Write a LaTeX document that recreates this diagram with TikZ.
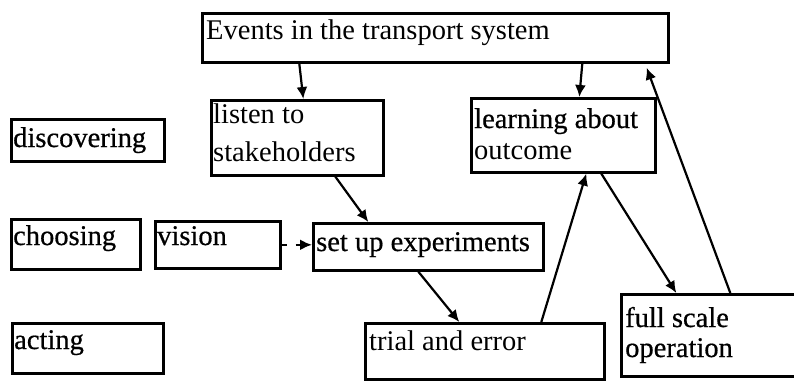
\documentclass[tikz,border=0pt]{standalone}
\usepackage{fontspec}
\setmainfont{Liberation Serif}
\newfontfamily\heavyfont[FakeBold=0.6]{Liberation Serif}
\usetikzlibrary{arrows.meta}
\begin{document}
\begin{tikzpicture}[x=1pt,y=-1pt,
  box/.style={draw, line width=2.6pt, anchor=north west, inner sep=0pt},
  txt/.style={anchor=base west, inner sep=0pt, font=\fontsize{28.5}{32}\selectfont},
  htxt/.style={anchor=base west, inner sep=0pt, font=\heavyfont\fontsize{28.5}{32}\selectfont},
  arr/.style={line width=2.2pt, -{Latex[length=12pt,width=11pt]}}]
\useasboundingbox (0,0) rectangle (794,381);
% boxes
\node[box, minimum width=466pt, minimum height=49pt] (ev) at (201,12) {};
\node[box, minimum width=153pt, minimum height=42pt] (disc) at (10,118) {};
\node[box, minimum width=172pt, minimum height=75pt] (ls) at (210,99) {};
\node[box, minimum width=184pt, minimum height=74pt] (lo) at (470,97) {};
\node[box, minimum width=129pt, minimum height=50pt] (cho) at (10,218) {};
\node[box, minimum width=125pt, minimum height=47pt] (vis) at (154,220) {};
\node[box, minimum width=230pt, minimum height=47pt] (sue) at (312,222) {};
\node[box, minimum width=151pt, minimum height=50pt] (act) at (11,322) {};
\node[box, minimum width=239pt, minimum height=56pt] (tae) at (364,322) {};
\node[box, minimum width=184pt, minimum height=82pt] (fso) at (620,293) {};
% texts
\node[txt] (evt) at (206,39) {Events in the transport system};
\node[htxt] (disct) at (13,147) {discovering};
\node[txt] (ls1) at (213,123) {listen to};
\node[txt] (ls2) at (213,161) {stakeholders};
\node[htxt] (lo1) at (474,128) {learning about};
\node[txt] (lo2) at (474,159) {outcome};
\node[htxt] (chot) at (13,245) {choosing};
\node[htxt] (vist) at (157,245) {vision};
\node[htxt] (suet) at (316,251) {set up experiments};
\node[htxt] (actt) at (14,349) {acting};
\node[txt] (taet) at (369,350) {trial and error};
\node[htxt] (fso1) at (625,327) {full scale};
\node[htxt] (fso2) at (625,357) {operation};
% connectors
\draw[arr] ([xshift=2pt]ev.south -| ls.north) -- ([xshift=6pt]ls.north);
\draw[arr] ([xshift=19pt]ev.south -| lo.north) -- ([xshift=16pt]lo.north);
\draw[arr] ([xshift=38pt]ls.south) -- ([xshift=-60pt]sue.north);
\draw[arr] ([xshift=-10pt]sue.south) -- ([xshift=-25.5pt]tae.north);
\draw[arr] ([xshift=56.5pt]tae.north) -- ([xshift=23pt]lo.south);
\draw[arr] ([xshift=38pt]lo.south) -- ([xshift=-37pt]fso.north);
\draw[arr] ([xshift=17pt]fso.north) -- ([xshift=-23pt,yshift=-4pt]ev.south east);
\draw[arr, dash pattern=on 5pt off 9pt] (vis.east) -- (vis.east -| sue.west);
\end{tikzpicture}
\end{document}
